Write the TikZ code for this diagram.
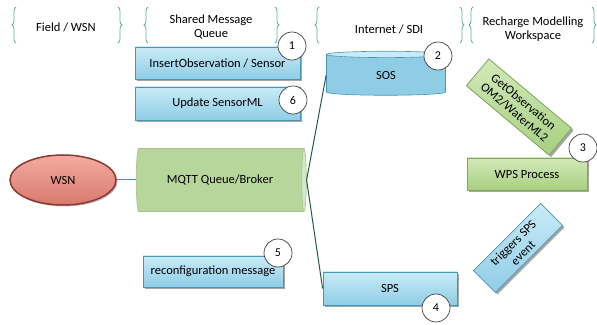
\documentclass[tikz,border=0pt]{standalone}
\usepackage{fontspec}
\setmainfont{Carlito}
\usepackage{xcolor}
\usepackage{tikz}
\usetikzlibrary{shadows,shapes.geometric,decorations.pathreplacing}

\definecolor{bluetop}{HTML}{C9EBF7}
\definecolor{bluebot}{HTML}{8FCDE6}
\definecolor{blueedge}{HTML}{4A94B4}
\definecolor{greentop}{HTML}{D2E9B8}
\definecolor{greenbot}{HTML}{A7CF82}
\definecolor{greenedge}{HTML}{7DA956}
\definecolor{mqttbody}{HTML}{B7D69C}
\definecolor{mqttend}{HTML}{D6E8C8}
\definecolor{wsntop}{HTML}{F2ABA1}
\definecolor{wsnbot}{HTML}{D9796D}
\definecolor{wsnedge}{HTML}{8A3B31}
\definecolor{bracegreen}{HTML}{5DB496}
\definecolor{linkteal}{HTML}{3A9C8A}
\definecolor{wiregreen}{HTML}{1E5C48}

\begin{document}
\begin{tikzpicture}[x=1pt,y=1pt,
  font=\fontsize{12.5}{14}\selectfont,
  bluebox/.style={rectangle, draw=blueedge, line width=0.8pt,
    top color=bluetop, bottom color=bluebot, inner sep=1.5pt, align=center,
    drop shadow={shadow xshift=2pt, shadow yshift=-2pt, fill=black!70, opacity=0.5}},
  greenbox/.style={bluebox, draw=greenedge, top color=greentop, bottom color=greenbot},
  numcirc/.style={circle, draw=black!75, fill=white, line width=0.7pt,
    minimum size=28pt, inner sep=0pt, font=\fontsize{12}{14}\selectfont},
  layerbrace/.style={draw=bracegreen, line width=0.8pt, decorate,
    decoration={brace, amplitude=4pt}},
  wire/.style={draw=wiregreen, line width=1pt}]

  \useasboundingbox (0,0) rectangle (597,324);

  % layer headings:
  \node (field) at (66,297) {Field / WSN};
  \node[align=center] (shared) at (211,297) {Shared Message\\Queue};
  \node (internet) at (389,295) {Internet / SDI};
  \node[align=center] (recharge) at (533,295) {Recharge Modelling\\Workspace};

  % braces round the headings:
  \draw[layerbrace] (16,281) -- (16,317);
  \draw[layerbrace] (118,317) -- (118,281);
  \draw[layerbrace] (148,281) -- (148,317);
  \draw[layerbrace] (275,317) -- (275,281);
  \draw[layerbrace] (319,281) -- (319,317);
  \draw[layerbrace] (460,317) -- (460,281);
  \draw[layerbrace] (473,281) -- (473,317);
  \draw[layerbrace] (592,317) -- (592,281);

  % message queue:
  \node[bluebox, minimum width=165pt, minimum height=32pt] (insobs) at (217.5,261) {InsertObservation / Sensor};
  \node[bluebox, minimum width=165pt, minimum height=33pt] (updsml) at (217.5,220.5) {Update SensorML};
  \node[cylinder, cylinder uses custom fill, cylinder body fill=mqttbody,
    cylinder end fill=mqttend, draw=greenedge!70, line width=0.6pt, aspect=0.44,
    minimum width=63pt, minimum height=170pt, inner sep=0pt] (mqtt) at (220,144) {MQTT Queue/Broker};
  \node[bluebox, minimum width=140pt, minimum height=31pt] (reconf) at (213,52.5) {reconfiguration message};

  % field:
  \node[ellipse, draw=wsnedge, line width=1.5pt, top color=wsntop, bottom color=wsnbot,
    minimum width=106pt, minimum height=50pt,
    drop shadow={shadow xshift=1.5pt, shadow yshift=-1.5pt, fill=black!70, opacity=0.4}] (wsn) at (63,144) {WSN};

  % internet services:
  \node[cylinder, shape border rotate=90, cylinder uses custom fill,
    cylinder body fill=bluebot, cylinder end fill=bluetop, draw=blueedge, line width=0.6pt,
    aspect=0.32, minimum width=119pt, minimum height=44pt, inner sep=0pt] (sos) at (386,249) {SOS};
  \node[bluebox, minimum width=134pt, minimum height=33pt] (sps) at (390,35.5) {SPS};

  % modelling workspace:
  \node[greenbox, rotate=-40, minimum width=108pt, minimum height=35pt, inner sep=1pt] (getobs) at (519,217) {GetObservation\\OM2/WaterML2};
  \node[greenbox, minimum width=120pt, minimum height=32pt] (wps) at (527,150) {WPS Process};
  \node[bluebox, rotate=45, minimum width=95pt, minimum height=31pt, inner sep=1pt] (trig) at (518,76) {triggers SPS\\event};

  % connectors:
  \draw[draw=linkteal, line width=1pt] (wsn.east) -- (mqtt.west);
  \draw[wire] (sos.west) -- (mqtt.east) -- (sps.west);

  % step numbers:
  \node[numcirc] (n1) at (292,278) {1};
  \node[numcirc] (n2) at (438,268) {2};
  \node[numcirc] (n3) at (583,176) {3};
  \node[numcirc] (n4) at (436,16) {4};
  \node[numcirc] (n5) at (278,71) {5};
  \node[numcirc] (n6) at (293,224) {6};

\end{tikzpicture}
\end{document}
